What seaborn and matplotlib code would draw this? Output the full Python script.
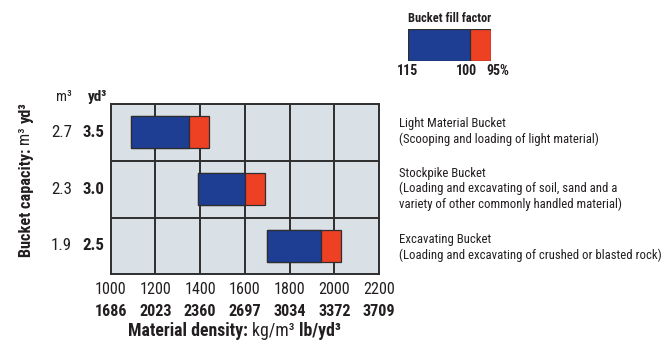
import matplotlib
matplotlib.use("Agg")
import matplotlib.pyplot as plt
import matplotlib.transforms as mtransforms
import seaborn as sns
import pandas as pd

# Bucket types (top to bottom) and their descriptions
buckets = ["Light Material Bucket", "Stockpike Bucket", "Excavating Bucket"]
descriptions = [
    ["(Scooping and loading of light material)"],
    ["(Loading and excavating of soil, sand and a",
     "variety of other commonly handled material)"],
    ["(Loading and excavating of crushed or blasted rock)"],
]
capacity_m3 = ["2.7", "2.3", "1.9"]
capacity_yd3 = ["3.5", "3.0", "2.5"]

# Material density (kg/m3) at 115 %, 100 % and 95 % bucket fill factor
density_115 = [1090, 1390, 1700]
density_100 = [1350, 1600, 1940]
density_95 = [1440, 1690, 2030]

kg_ticks = [1000, 1200, 1400, 1600, 1800, 2000, 2200]
lb_ticks = [1686, 2023, 2360, 2697, 3034, 3372, 3709]

fill_levels = [115, 100, 95]
fill_labels = ["115", "100", "95%"]

BLUE = "#1d3e93"
RED = "#ee4124"
PANEL = "#d9e0e6"
LINE = "#2e2e2e"
TXT = "#231f20"

sns.set_theme(style="white")
plt.rcParams["font.family"] = ["Roboto Condensed", "Liberation Sans", "DejaVu Sans"]
plt.rcParams["text.color"] = TXT

W, H = 668, 343
fig = plt.figure(figsize=(W / 100, H / 100), dpi=100)
fig.patch.set_facecolor("white")


def px(x, y):
    return x / W, 1 - y / H


ax = fig.add_axes([110.7 / W, 1 - 274.3 / H, (379 - 110.7) / W, (274.3 - 104) / H])
ax.set_facecolor(PANEL)

df = pd.DataFrame({
    "bucket": buckets,
    "start": density_115,
    "full": [e - s for s, e in zip(density_115, density_95)],
    "blue": [m - s for s, m in zip(density_115, density_100)],
})

common = dict(data=df, y="bucket", orient="h", width=0.56, saturation=1,
              edgecolor=LINE, linewidth=0.9, ax=ax, zorder=3)
sns.barplot(x="full", left=df["start"], color=RED, **common)
sns.barplot(x="blue", left=df["start"], color=BLUE, **common)

ax.set_xlim(kg_ticks[0], kg_ticks[-1])
ax.set_ylim(2.5, -0.5)
ax.set_xlabel("")
ax.set_ylabel("")
ax.set_xticks(kg_ticks)
ax.set_xticklabels([])
ax.set_yticks([])
ax.tick_params(length=0)
for v in kg_ticks[1:-1]:
    ax.axvline(v, color=LINE, lw=1.4, zorder=1)
for v in [0.5, 1.5]:
    ax.axhline(v, color=LINE, lw=1.4, zorder=1)
for s in ax.spines.values():
    s.set_visible(True)
    s.set_color(LINE)
    s.set_linewidth(1.4)

# Density tick labels in two units
xt = mtransforms.blended_transform_factory(ax.transData, fig.transFigure)
for kg, lb in zip(kg_ticks, lb_ticks):
    ax.text(kg, 1 - 290 / H, f"{kg}", transform=xt, ha="center", va="center",
            fontsize=11.6)
    ax.text(kg, 1 - 311.5 / H, f"{lb}", transform=xt, ha="center", va="center",
            fontsize=11.6, fontweight="bold")

# Capacity labels in two units
yt = mtransforms.blended_transform_factory(fig.transFigure, ax.transData)
for i, (m3, yd3) in enumerate(zip(capacity_m3, capacity_yd3)):
    ax.text(72 / W, i, m3, transform=yt, ha="right", va="center", fontsize=12.2)
    ax.text(104.5 / W, i, yd3, transform=yt, ha="right", va="center",
            fontsize=12.2, fontweight="bold")
fig.text(*px(63.5, 97), "m³", ha="center", va="center", fontsize=10.5)
fig.text(*px(97.5, 97), "yd³", ha="center", va="center", fontsize=11,
         fontweight="bold")

# Descriptions to the right of each row
name_y = [124, 173, 240]
pitch = 15.5
for name, lines, y in zip(buckets, descriptions, name_y):
    for k, line in enumerate([name] + lines):
        fig.text(399 / W, 1 - (y + k * pitch) / H, line, ha="left", va="center",
                 fontsize=9.2)

fig.canvas.draw()
renderer = fig.canvas.get_renderer()


def chain_h(parts, x0, yc, size):
    x = x0
    for s, w in parts:
        t = fig.text(x / W, 1 - yc / H, s, ha="left", va="center",
                     fontsize=size, fontweight=w)
        bb = t.get_window_extent(renderer)
        x += bb.width


def chain_v(parts, xc, y0, size):
    y = y0
    for s, w in parts:
        t = fig.text(xc / W, 1 - y / H, s, ha="center", va="bottom",
                     rotation=90, fontsize=size, fontweight=w)
        bb = t.get_window_extent(renderer)
        y -= bb.height


chain_h([("Material density: ", "bold"), ("kg/m³ ", "normal"), ("lb/yd³", "bold")],
        128, 331, 12.8)
chain_v([("Bucket capacity: ", "bold"), ("m³ ", "normal"), ("yd³", "bold")],
        26, 257, 11.7)

# Fill factor key
fig.text(*px(450, 18.5), "Bucket fill factor", ha="center", va="center",
         fontsize=8.9, fontweight="bold")
lax = fig.add_axes([408 / W, 1 - 61 / H, (491 - 408) / W, (61 - 29) / H])
key = pd.DataFrame({"k": ["key"], "full": [fill_levels[0] - fill_levels[2]],
                    "blue": [fill_levels[0] - fill_levels[1]]})
kcommon = dict(data=key, y="k", orient="h", width=1.0, saturation=1,
               edgecolor=LINE, linewidth=0.9, ax=lax)
sns.barplot(x="full", left=[fill_levels[2]], color=RED, **kcommon)
sns.barplot(x="blue", left=[fill_levels[1]], color=BLUE, **kcommon)
lax.set_xlim(fill_levels[0], fill_levels[2])
lax.set_ylim(0.5, -0.5)
lax.axis("off")
kt = mtransforms.blended_transform_factory(lax.transData, fig.transFigure)
offs = [0.24, 1.0, -1.6]
for v, lab, o in zip(fill_levels, fill_labels, offs):
    lax.text(v + o, 1 - 71 / H, lab, transform=kt, ha="center", va="center",
             fontsize=10, fontweight="bold")

fig.savefig("out.png", dpi=100)
